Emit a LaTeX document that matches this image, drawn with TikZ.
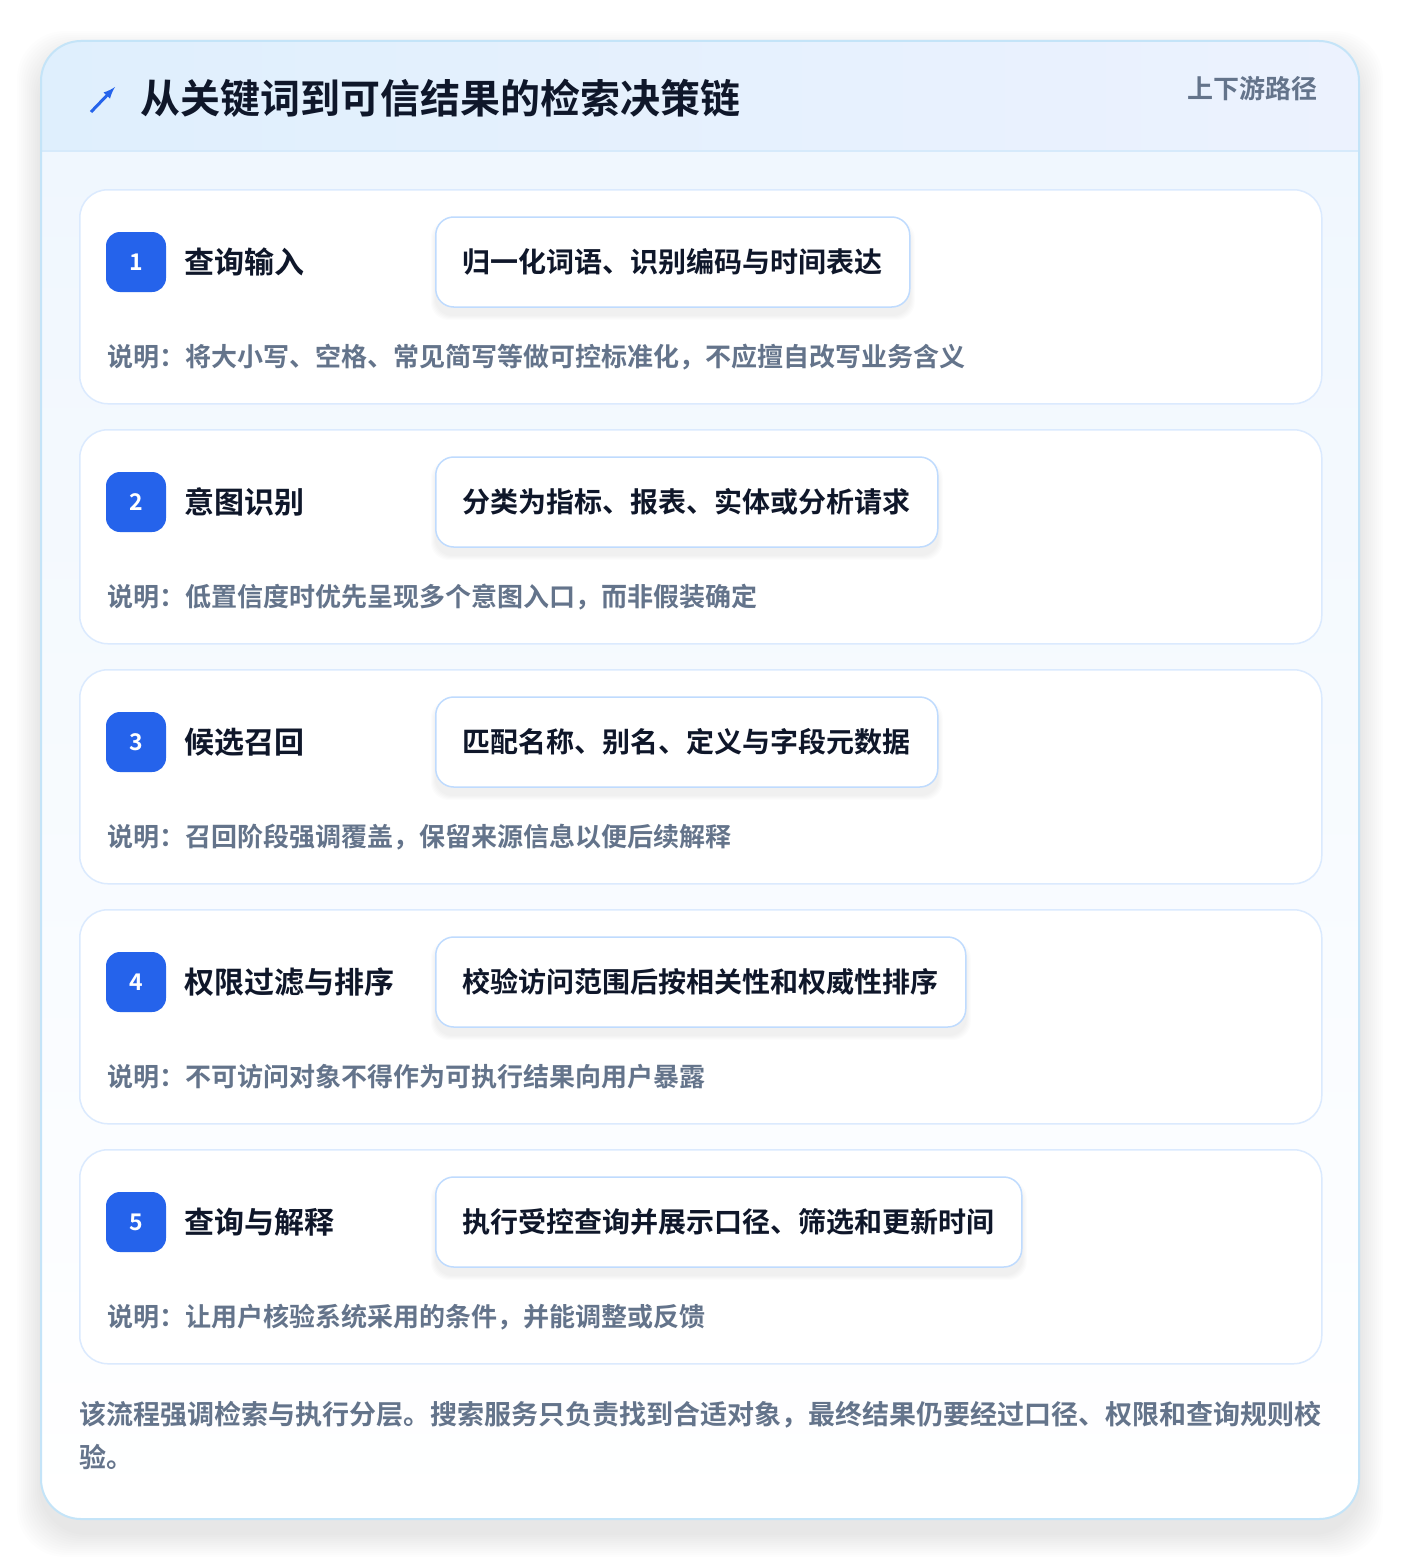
\documentclass[tikz,border=0pt]{standalone}
\usepackage{fontspec}
\setmainfont{Noto Sans CJK SC}[BoldFont={* Bold}]
\usepackage{tikz}
\usetikzlibrary{positioning}
\definecolor{accent}{HTML}{2563EB}
\definecolor{ink}{HTML}{0F172A}
\definecolor{muted}{HTML}{64748B}
\definecolor{cardline}{HTML}{DBEAFE}
\definecolor{boxline}{HTML}{BFDBFE}
\definecolor{frameline}{HTML}{C4E4F8}
\definecolor{headline}{HTML}{D6EAFB}
\definecolor{headleft}{HTML}{DFEFFD}
\definecolor{headright}{HTML}{ECF2FE}
\definecolor{bodytop}{HTML}{F0F7FE}
\tikzset{
    headtitle/.style={anchor=west, text=ink, inner sep=0pt, font=\bfseries\fontsize{40}{40}\selectfont},
    tag/.style={anchor=east, text=muted, inner sep=0pt, font=\bfseries\fontsize{26}{26}\selectfont},
    stepcard/.style={rectangle, rounded corners=28pt, draw=cardline, line width=1.5pt, fill=white, minimum width=1242pt, minimum height=214pt, anchor=north west},
    badge/.style={rectangle, rounded corners=14pt, fill=accent, text=white, minimum size=60pt, inner sep=0pt, font=\bfseries\fontsize{23}{23}\selectfont},
    steptitle/.style={text=ink, inner sep=0pt, font=\bfseries\fontsize{30}{30}\selectfont},
    action/.style={rectangle, rounded corners=18pt, draw=boxline, line width=1.5pt, fill=white, text=ink, minimum height=90pt, inner xsep=27pt, anchor=west, font=\bfseries\fontsize{28}{28}\selectfont},
    note/.style={anchor=west, text=muted, inner sep=0pt, font=\bfseries\fontsize{26}{26}\selectfont},
    summary/.style={anchor=west, text=muted, inner sep=0pt, font=\bfseries\fontsize{27}{27}\selectfont},
}
\begin{document}
\begin{tikzpicture}[x=1pt, y=-1pt]
    \useasboundingbox (0,0) rectangle (1400,1560);
    \fill[white] (0,0) rectangle (1400,1560);
    \foreach \k in {1,...,12}
        \fill[black, opacity=0.008, rounded corners=48pt] ({41-2*\k},{55-2*\k}) rectangle ({1359+2*\k},{1533+2*\k});
    \begin{scope}
        \clip[rounded corners=40pt] (41,41) rectangle (1359,1519);
        \shade[top color=bodytop, bottom color=white] (41,151) rectangle (1359,1519);
        \shade[left color=headleft, right color=headright] (41,41) rectangle (1359,151);
        \draw[headline, line width=1.5pt] (41,151) -- (1359,151);
    \end{scope}
    \draw[frameline, line width=2pt, rounded corners=40pt] (41,41) rectangle (1359,1519);

    \coordinate (iconfrom) at (91,112);
    \coordinate (iconto) at (115,87);
    \draw[accent, line width=3pt, -latex] (iconfrom) -- (iconto);
    \node[headtitle] (title) at (140,98) {从关键词到可信结果的检索决策链};
    \node[tag] (route) at (1318,89) {上下游路径};

    \foreach \n/\ttl/\act/\txt in {
        1/查询输入/归一化词语、识别编码与时间表达/说明：将大小写、空格、常见简写等做可控标准化，不应擅自改写业务含义,
        2/意图识别/分类为指标、报表、实体或分析请求/说明：低置信度时优先呈现多个意图入口，而非假装确定,
        3/候选召回/匹配名称、别名、定义与字段元数据/说明：召回阶段强调覆盖，保留来源信息以便后续解释,
        4/权限过滤与排序/校验访问范围后按相关性和权威性排序/说明：不可访问对象不得作为可执行结果向用户暴露,
        5/查询与解释/执行受控查询并展示口径、筛选和更新时间/说明：让用户核验系统采用的条件，并能调整或反馈}{
        \pgfmathsetmacro\yy{189+240*(\n-1)}
        \node[stepcard] (card\n) at (79,\yy) {};
        \node[badge] (badge\n) at (136,\yy+73) {\n};
        \node[steptitle, right=18pt of badge\n] (ttl\n) {\ttl};
        \foreach \k in {1,...,5}
            \node[action, draw=none, fill=black, opacity=0.01, minimum height=90pt+2*\k pt, inner xsep=27pt+\k pt] (shadow\n\k) at (435-\k,\yy+81) {\phantom{\act}};
        \node[action] (act\n) at (435,\yy+73) {\act};
        \node[note] (note\n) at (107,\yy+168) {\txt};
    }

    \node[summary] (sum1) at (79,1415) {该流程强调检索与执行分层。搜索服务只负责找到合适对象，最终结果仍要经过口径、权限和查询规则校};
    \node[summary] (sum2) at (79,1457) {验。};
\end{tikzpicture}
\end{document}
